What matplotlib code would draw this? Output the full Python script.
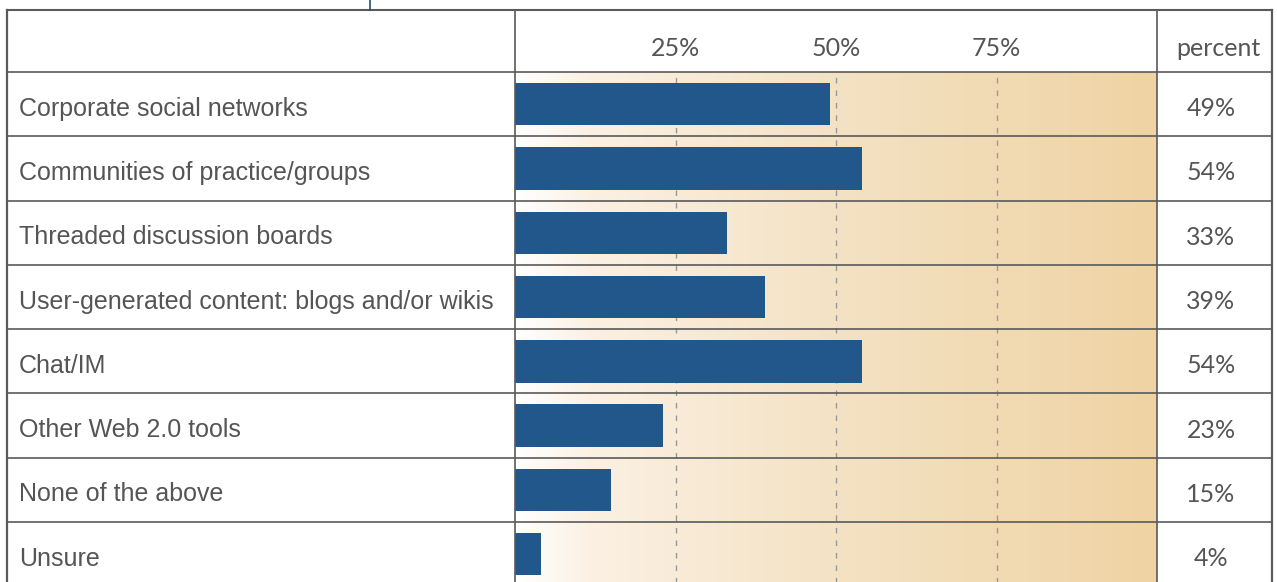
import matplotlib
matplotlib.use('Agg')
import matplotlib.pyplot as plt
import matplotlib.transforms as mtransforms
from matplotlib.colors import LinearSegmentedColormap
from matplotlib.lines import Line2D
import numpy as np

categories = ['Corporate social networks', 'Communities of practice/groups',
              'Threaded discussion boards', 'User-generated content: blogs and/or wikis',
              'Chat/IM', 'Other Web 2.0 tools', 'None of the above', 'Unsure']
percent = [49, 54, 33, 39, 54, 23, 15, 4]
ticks = [25, 50, 75]
tick_labels = ['25%', '50%', '75%']

W, H = 1277, 582
fig = plt.figure(figsize=(W / 100, H / 100), dpi=100)
fig.patch.set_facecolor('white')

row_h = 64.3
n = len(categories)
top_px = 72
bot_px = top_px + n * row_h
ax = fig.add_axes([515 / W, 1 - bot_px / H, (1157 - 515) / W, (bot_px - top_px) / H])
ax.set_xlim(0, 100)
ax.set_ylim(n - 0.5, -0.5)
ax.axis('off')

# background gradient
cmap = LinearSegmentedColormap.from_list('bg', [(0, '#ffffff'), (0.12, '#fbf0e2'),
                                                (0.5, '#f4e2c4'), (1, '#efd3a3')])
grad = np.linspace(0, 1, 256).reshape(1, -1)
ax.imshow(grad, cmap=cmap, extent=[0, 100, n - 0.5, -0.5], aspect='auto', zorder=0)

for t in ticks:
    ax.axvline(t, color='#999999', lw=1, ls=(0, (4, 5)), zorder=1)

ax.barh(range(n), percent, height=0.66, color='#21578a', zorder=2)

gray = '#555555'
lab = mtransforms.blended_transform_factory(fig.transFigure, ax.transData)
for i, (c, p) in enumerate(zip(categories, percent)):
    ax.text(19 / W, i + 0.07, c, transform=lab, ha='left', va='center',
            fontsize=18, color=gray, family='Liberation Sans')
    ax.text(1211 / W, i + 0.07, '%d%%' % p, transform=lab, ha='center', va='center',
            fontsize=18, color=gray, family='Lato')

# header
hdr = mtransforms.blended_transform_factory(ax.transData, fig.transFigure)
for t, s in zip(ticks, tick_labels):
    ax.text(t, 1 - 48 / H, s, transform=hdr, ha='center', va='center',
            fontsize=18, color=gray, family='Lato')
fig.text(1218 / W, 1 - 48 / H, 'percent', ha='center', va='center',
         fontsize=18, color=gray, family='Lato')

# table lines
lc = '#5a5a5a'
for i in range(n):
    ax.add_line(Line2D([7 / W, 1272 / W], [i - 0.5, i - 0.5], color=lc, lw=1.2,
                       transform=lab, clip_on=False, zorder=3))
fig.add_artist(Line2D([7 / W, 1272 / W], [1 - 9.5 / H] * 2, color=lc, lw=1.5))
for x in [7, 515, 1157, 1272]:
    fig.add_artist(Line2D([x / W] * 2, [0, 1 - 9.5 / H], color=lc,
                          lw=1.2 if x in (515, 1157) else 1.6))
fig.add_artist(Line2D([370 / W] * 2, [1, 1 - 9.5 / H], color='#2c4a78', lw=1.2))

fig.savefig('out.png', dpi=100)
